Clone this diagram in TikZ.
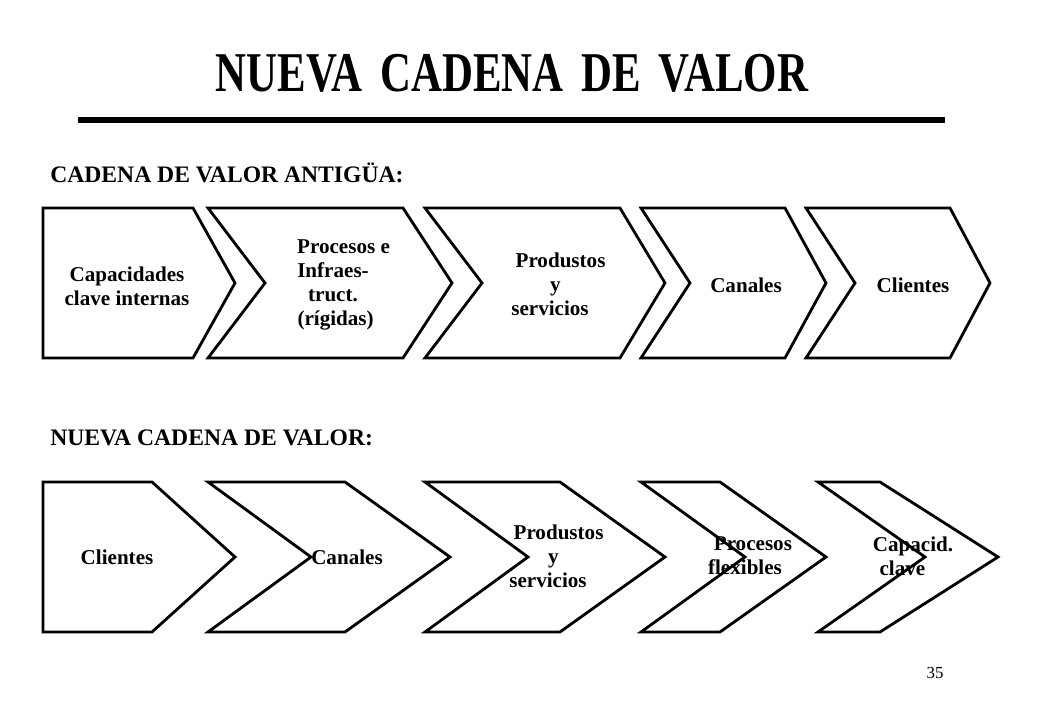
\documentclass[tikz,border=0pt]{standalone}
\usepackage{fontspec}
\setmainfont{Liberation Serif}
\begin{document}
\begin{tikzpicture}[x=0.025cm,y=-0.025cm,
 sh/.style={draw=black,line width=2pt,line join=miter,fill=white},
 lb/.style={font=\bfseries\fontsize{15}{17}\selectfont,align=center,inner sep=0pt}]
\useasboundingbox (0,0) rectangle (1040,720);
\node[inner sep=0] (title) at (512,73) {\resizebox{14.8cm}{0.93cm}{\bfseries NUEVA\, CADENA\, DE\, VALOR}};
\draw[line width=3.6pt] (78,120) coordinate (r1) -- (945,120) coordinate (r2);
\node[font=\bfseries\fontsize{16.8}{19}\selectfont,anchor=west,inner sep=0] (h1) at (50,173) {CADENA DE VALOR ANTIGÜA:};
\node[font=\bfseries\fontsize{16.8}{19}\selectfont,anchor=west,inner sep=0] (h2) at (50,438) {NUEVA CADENA DE VALOR:};
% top row
\def\T{208}\def\B{358}\def\M{283}
\draw[sh] (43,\T)--(193,\T)--(235,\M)--(193,\B)--(43,\B)--cycle;
\draw[sh] (208,\T)--(403,\T)--(452,\M)--(403,\B)--(208,\B)--(265,\M)--cycle;
\draw[sh] (425,\T)--(620,\T)--(665,\M)--(620,\B)--(425,\B)--(482,\M)--cycle;
\draw[sh] (641,\T)--(785,\T)--(826,\M)--(785,\B)--(641,\B)--(690,\M)--cycle;
\draw[sh] (806,\T)--(950,\T)--(990,\M)--(950,\B)--(806,\B)--(855,\M)--cycle;
\node[lb] (a1) at (127,286) {Capacidades\\clave internas};
\node[lb] (a2) at (333,285) {\ \ \ \ Procesos e\\Infraes-\\truct.\\\ (rígidas)};
\node[lb] (a3) at (550,284) {\ \ \ \ Produstos\\\ \ y\\servicios};
\node[lb] (a4) at (746,285) {Canales};
\node[lb] (a5) at (913,285) {Clientes};
% bottom row
\def\T{482}\def\B{632}\def\M{557}
\draw[sh] (43,\T)--(152,\T)--(235,\M)--(152,\B)--(43,\B)--cycle;
\draw[sh] (208,\T)--(345,\T)--(450,\M)--(345,\B)--(208,\B)--(311,\M)--cycle;
\draw[sh] (425,\T)--(560,\T)--(665,\M)--(560,\B)--(425,\B)--(528,\M)--cycle;
\draw[sh] (641,\T)--(720,\T)--(826,\M)--(720,\B)--(641,\B)--(745,\M)--cycle;
\draw[sh] (818,\T)--(880,\T)--(998,\M)--(880,\B)--(818,\B)--(925,\M)--cycle;
\node[lb] (b1) at (117,557) {Clientes};
\node[lb] (b2) at (347,557) {Canales};
\node[lb] (b3) at (548,556) {\ \ \ \ Produstos\\\ \ y\\servicios};
\node[lb] (b4) at (745,556) {\ \ \ Procesos\\flexibles};
\node[lb] (b5) at (913,556) {Capacid.\\clave\ \ \ \ \ };
\node[font=\fontsize{12}{14}\selectfont,inner sep=0] (pg) at (935,673) {35};
\end{tikzpicture}
\end{document}
